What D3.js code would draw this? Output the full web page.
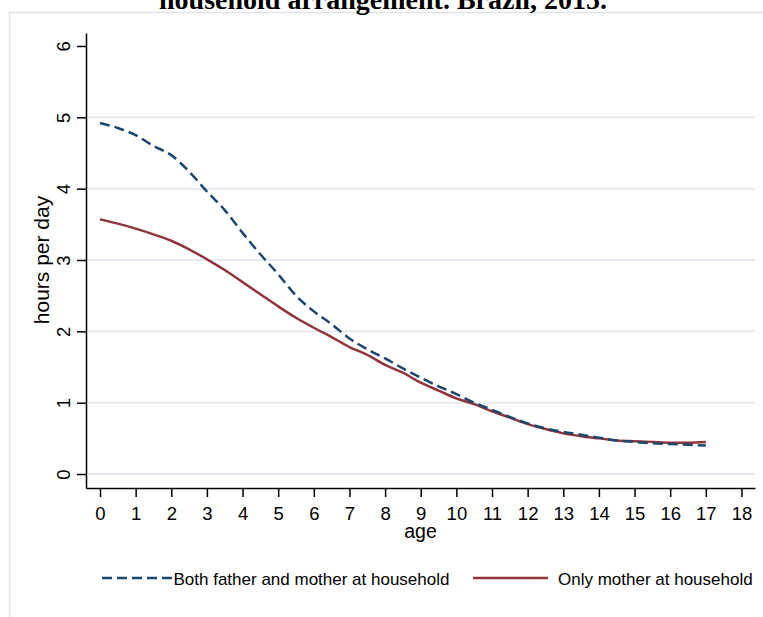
<!DOCTYPE html>
<html>
<head>
<meta charset="utf-8">
<script src="https://cdn.jsdelivr.net/npm/d3@7"></script>
<style>
  html, body { margin: 0; padding: 0; background: #fff; }
  svg { display: block; }
</style>
</head>
<body>
<svg id="chart" width="763" height="617"></svg>
<script>
// ages (years) at which the curves were read
const ages = [0, 0.5, 1, 1.5, 2, 2.5, 3, 3.5, 4, 4.5, 5, 5.5, 6, 6.5, 7, 7.5, 8, 8.5,
              9, 9.5, 10, 10.5, 11, 11.5, 12, 12.5, 13, 13.5, 14, 14.5, 15, 15.5, 16, 16.5, 17];
// hours per day, both father and mother at household
const bothParents = [4.92, 4.85, 4.75, 4.60, 4.47, 4.24, 3.96, 3.70, 3.38, 3.08, 2.80, 2.50,
                     2.28, 2.10, 1.90, 1.75, 1.62, 1.48, 1.35, 1.23, 1.12, 1.00, 0.90, 0.80,
                     0.71, 0.64, 0.59, 0.55, 0.51, 0.47, 0.45, 0.43, 0.42, 0.41, 0.40];
// hours per day, only mother at household
const onlyMother = [3.57, 3.51, 3.44, 3.36, 3.27, 3.15, 3.01, 2.86, 2.69, 2.52, 2.35, 2.19,
                    2.05, 1.92, 1.78, 1.67, 1.53, 1.42, 1.28, 1.17, 1.06, 0.98, 0.88, 0.79,
                    0.70, 0.63, 0.57, 0.53, 0.50, 0.47, 0.46, 0.45, 0.44, 0.44, 0.45];
const xTicks = d3.range(0, 19);
const yTicks = [0, 1, 2, 3, 4, 5, 6];
const gridTicks = [0, 1, 2, 3, 4, 5];
const seriesNames = ["Both father and mother at household", "Only mother at household"];
const title = "household arrangement. Brazil, 2015.";

const svg = d3.select("#chart");
const navy = "#1a476f";
const maroon = "#90353b";
const sans = "'Liberation Sans', Arial, sans-serif";

// page frame (cropped document figure)
svg.append("rect")
    .attr("x", 9.5).attr("y", 12.5)
    .attr("width", 800).attr("height", 700)
    .attr("fill", "#fff")
    .attr("stroke", "#dfe4ea")
    .attr("stroke-width", 1.5);

// title, mostly cut off at the top
svg.append("text")
    .attr("x", 383)
    .attr("y", 9)
    .attr("text-anchor", "middle")
    .attr("font-family", "'Liberation Serif', 'Times New Roman', serif")
    .attr("font-weight", "bold")
    .attr("font-size", 28)
    .text(title);

const x = d3.scaleLinear().domain([-0.393, 18.38]).range([86, 755]);
const y = d3.scaleLinear().domain([-0.196, 6.182]).range([488, 33]);

// grid
svg.append("g")
    .selectAll("line")
    .data(gridTicks)
    .join("line")
    .attr("x1", x.range()[0]).attr("x2", x.range()[1])
    .attr("y1", d => y(d)).attr("y2", d => y(d))
    .attr("stroke", "#e3e9f0")
    .attr("stroke-width", 2);

const line = d3.line()
    .curve(d3.curveMonotoneX)
    .x((d, i) => x(ages[i]))
    .y(d => y(d));

svg.append("path")
    .datum(onlyMother)
    .attr("fill", "none")
    .attr("stroke", maroon)
    .attr("stroke-width", 2.5)
    .attr("d", line);

svg.append("path")
    .datum(bothParents)
    .attr("fill", "none")
    .attr("stroke", navy)
    .attr("stroke-width", 2.5)
    .attr("stroke-dasharray", "10,5")
    .attr("d", line);

// axes
const xAxis = svg.append("g")
    .attr("transform", `translate(0,${y.range()[0]})`)
    .call(d3.axisBottom(x).tickValues(xTicks).tickFormat(d3.format("d"))
        .tickSize(9).tickSizeOuter(0).tickPadding(10));

const yAxis = svg.append("g")
    .attr("transform", `translate(${x.range()[0]},0)`)
    .call(d3.axisLeft(y).tickValues(yTicks).tickFormat(d3.format("d"))
        .tickSize(9).tickSizeOuter(0));

[xAxis, yAxis].forEach(g => {
    g.select(".domain").attr("stroke", "#000").attr("stroke-width", 1.5);
    g.selectAll(".tick line").attr("stroke", "#000").attr("stroke-width", 1.5);
    g.selectAll(".tick text")
        .attr("fill", "#000")
        .attr("font-family", sans)
        .attr("font-size", 18.5);
});

yAxis.selectAll(".tick text")
    .attr("x", null)
    .attr("dy", null)
    .attr("text-anchor", "middle")
    .attr("transform", "translate(-16.5,0) rotate(-90)");

// axis titles
svg.append("text")
    .attr("x", 420.5)
    .attr("y", 538)
    .attr("text-anchor", "middle")
    .attr("font-family", sans)
    .attr("font-size", 19.5)
    .text("age");

svg.append("text")
    .attr("transform", "translate(49,260) rotate(-90)")
    .attr("text-anchor", "middle")
    .attr("font-family", sans)
    .attr("font-size", 21)
    .text("hours per day");

// legend
const legend = svg.append("g").attr("font-family", sans).attr("font-size", 17);
legend.append("line")
    .attr("x1", 102).attr("x2", 172).attr("y1", 578).attr("y2", 578)
    .attr("stroke", navy).attr("stroke-width", 2.5).attr("stroke-dasharray", "10,5");
legend.append("text").attr("x", 173.5).attr("y", 585).text(seriesNames[0]);
legend.append("line")
    .attr("x1", 473).attr("x2", 548).attr("y1", 578).attr("y2", 578)
    .attr("stroke", maroon).attr("stroke-width", 2.5);
legend.append("text").attr("x", 558).attr("y", 585).text(seriesNames[1]);
</script>
</body>
</html>
